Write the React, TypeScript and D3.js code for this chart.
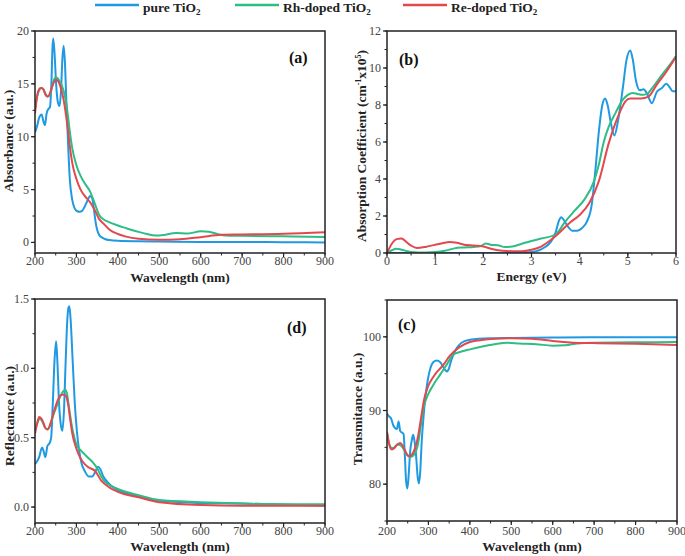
import React from "react";
import * as d3 from "d3";

const BLUE = "#1f9ae2";
const GREEN = "#2dbd85";
const RED = "#e2494e";

const seriesNames = ["pure TiO", "Rh-doped TiO", "Re-doped TiO"];

// Panel (a) Absorbance
const aPureX = [200,205,210,216,220,224,228,232,236,240,242,244,247,251,255,259,263,266,269,272,276,280,284,290,296,302,308,314,320,326,333,338,342,346,350,355,362,370,380,400,450,500,600,700,800,900];
const aPureY = [10.4,11.0,11.8,12.1,11.5,11.1,12.2,12.6,12.8,15.5,18.3,19.3,18.0,15.0,13.3,12.9,14.5,17.3,18.6,17.2,13.0,9.2,6.0,4.0,3.2,2.95,2.9,3.0,3.4,3.9,4.4,4.2,3.2,2.0,1.2,0.7,0.45,0.3,0.22,0.15,0.1,0.08,0.05,0.05,0.02,0.0];
const aRhX = [200,205,210,215,220,225,230,235,240,245,250,255,260,265,270,275,280,285,290,300,310,320,333,345,355,365,380,400,420,450,470,490,510,540,570,600,620,640,660,700,800,900];
const aRhY = [12.6,13.8,14.4,14.6,14.5,14.1,13.8,13.9,14.5,15.3,15.6,15.5,15.2,14.8,14.2,13.3,11.8,10.2,8.9,7.3,6.3,5.6,4.8,3.6,2.6,2.2,1.9,1.6,1.35,1.0,0.8,0.65,0.7,0.9,0.85,1.05,1.0,0.8,0.65,0.62,0.58,0.52];
const aReX = [200,205,210,215,220,225,230,235,240,245,250,255,260,265,270,275,280,285,290,300,310,320,333,345,355,365,380,400,420,450,500,550,600,650,700,800,900];
const aReY = [12.2,13.8,14.5,14.6,14.5,14.0,13.8,14.0,14.6,15.1,15.4,15.3,14.9,14.2,13.3,12.0,10.5,8.8,7.5,6.0,5.0,4.4,3.8,3.0,2.2,1.8,1.2,0.8,0.55,0.35,0.25,0.3,0.5,0.72,0.75,0.82,0.97];

// Panel (b) Absorption coefficient
const bPureX = [0,0.5,1,1.5,2,2.5,2.9,3.1,3.2,3.3,3.4,3.5,3.57,3.62,3.68,3.75,3.85,3.95,4.05,4.15,4.25,4.32,4.4,4.47,4.53,4.58,4.65,4.72,4.8,4.9,4.97,5.05,5.1,5.17,5.25,5.33,5.4,5.5,5.6,5.7,5.8,5.87,5.93,6.0];
const bPureY = [0,0,0,0,0,0,0.03,0.1,0.2,0.35,0.6,1.1,1.75,1.93,1.75,1.45,1.2,1.2,1.35,1.7,2.6,4.3,6.6,8.0,8.35,8.0,7.0,6.35,7.2,9.0,10.4,10.95,10.5,9.3,8.8,8.85,8.6,8.1,8.7,8.9,9.15,8.95,8.75,8.75];
const bRhX = [0,0.1,0.2,0.3,0.5,0.8,1.0,1.2,1.4,1.6,1.8,1.95,2.05,2.15,2.3,2.45,2.6,2.8,3.0,3.2,3.5,3.7,3.9,4.1,4.3,4.4,4.5,4.6,4.75,4.9,5.0,5.1,5.2,5.3,5.4,5.5,5.7,5.85,6.0];
const bRhY = [0,0.15,0.23,0.18,0.06,0.03,0.05,0.12,0.25,0.3,0.33,0.38,0.52,0.45,0.42,0.32,0.35,0.5,0.65,0.78,1.0,1.7,2.3,2.9,3.9,4.8,6.0,6.8,7.6,8.3,8.55,8.65,8.6,8.55,8.6,8.9,9.6,10.1,10.65];
const bReX = [0,0.1,0.2,0.3,0.4,0.5,0.62,0.8,1.0,1.15,1.3,1.45,1.6,1.8,2.0,2.2,2.4,2.6,2.8,3.0,3.2,3.4,3.6,3.8,4.0,4.2,4.4,4.6,4.8,4.95,5.05,5.2,5.35,5.45,5.6,5.8,6.0];
const bReY = [0,0.5,0.75,0.78,0.6,0.4,0.27,0.33,0.45,0.53,0.6,0.55,0.45,0.4,0.35,0.2,0.12,0.1,0.1,0.18,0.35,0.7,1.15,1.65,2.05,2.7,3.9,5.9,7.4,8.2,8.35,8.35,8.38,8.5,9.1,9.8,10.6];

// Panel (d) Reflectance
const dPureX = [200,205,210,217,221,225,230,235,239,243,247,251,254,258,262,266,270,274,278,281,283,286,291,296,301,306,312,320,330,338,345,352,358,365,375,400,450,500,600,700,800,900];
const dPureY = [0.31,0.33,0.36,0.43,0.40,0.36,0.44,0.46,0.50,0.75,1.05,1.195,1.05,0.75,0.60,0.55,0.70,1.05,1.35,1.44,1.447,1.35,1.05,0.75,0.55,0.42,0.32,0.26,0.22,0.22,0.25,0.29,0.27,0.22,0.18,0.12,0.08,0.045,0.03,0.025,0.018,0.01];
const dRhX = [200,205,210,215,220,225,230,235,240,245,250,255,260,265,270,273,277,282,288,295,300,310,320,330,340,350,360,370,385,400,450,500,600,700,800,900];
const dRhY = [0.55,0.6,0.635,0.63,0.6,0.57,0.56,0.58,0.62,0.67,0.71,0.75,0.79,0.82,0.84,0.846,0.82,0.72,0.6,0.5,0.45,0.41,0.38,0.35,0.32,0.28,0.22,0.18,0.15,0.13,0.085,0.05,0.035,0.025,0.02,0.02];
const dReX = [200,205,210,215,220,225,230,235,240,245,250,255,260,265,270,275,280,285,290,300,310,320,330,345,360,380,400,450,500,600,700,800,900];
const dReY = [0.53,0.6,0.65,0.64,0.61,0.57,0.56,0.58,0.63,0.68,0.73,0.77,0.8,0.81,0.81,0.8,0.74,0.63,0.53,0.42,0.35,0.31,0.285,0.26,0.19,0.14,0.11,0.07,0.035,0.015,0.01,0.01,0.01];

// Panel (c) Transmittance
const cPureX = [200,205,210,215,220,224,228,232,236,240,243,246,249,252,256,260,263,266,270,274,277,280,284,288,292,298,305,312,320,328,335,340,345,350,355,362,370,380,400,450,500,600,700,800,900];
const cPureY = [89.6,89.2,88.9,88.0,87.6,87.5,88.5,87.2,87.0,86.8,84,80.5,79.4,81,84.5,86,86.7,86,84,81,80.1,81.5,86,89,91.5,94,95.8,96.6,96.8,96.6,96.0,95.5,95.3,95.8,96.8,97.8,98.6,99.2,99.6,99.8,99.85,99.9,99.95,99.95,99.95];
const cRhX = [200,203,207,212,218,225,232,240,248,255,262,268,273,278,283,288,293,300,310,320,330,345,360,380,400,430,460,490,520,560,600,630,660,700,800,900];
const cRhY = [87.0,86.0,85.2,84.9,85.0,85.4,85.3,84.8,84.0,83.7,83.8,84.3,85.0,86.5,88.5,90.3,91.3,92.3,93.3,94.2,95.0,96.3,97.6,98.0,98.3,98.7,99.0,99.2,99.1,99.0,98.8,98.85,99.1,99.2,99.25,99.3];
const cReX = [200,204,208,212,218,225,232,238,244,250,255,260,265,270,275,280,285,290,300,310,320,330,340,350,360,375,400,425,450,500,550,600,650,700,800,900];
const cReY = [87.1,85.8,84.9,84.7,84.9,85.4,85.6,85.2,84.5,83.9,83.8,84.0,84.5,85.3,86.5,88.2,90.0,91.6,93.4,94.4,95.2,95.8,96.5,97.3,97.9,98.6,99.3,99.55,99.7,99.8,99.75,99.45,99.2,99.15,99.05,98.9];

const wlTicks = [200, 300, 400, 500, 600, 700, 800, 900];
const eTicks = [0, 1, 2, 3, 4, 5, 6];
const aYTicks = [0, 5, 10, 15, 20];
const bYTicks = [0, 2, 4, 6, 8, 10, 12];
const dYTicks = [0.0, 0.5, 1.0, 1.5];
const cYTicks = [80, 90, 100];

const FONT = "Liberation Serif, Times New Roman, Times, serif";

type Series = { xs: number[]; ys: number[]; color: string };

function Panel(props: {
  left: number; right: number; top: number; bottom: number;
  xDomain: [number, number]; yDomain: [number, number];
  xTicks: number[]; xMinorStep: number; yTicks: number[]; yMinorStep: number;
  xFmt: (v: number) => string; yFmt: (v: number) => string;
  series: Series[]; xTitle: string; yTitle: React.ReactNode; yTitleX: number; yTitleY: number;
  label: string; labelX: number; labelY: number;
  tickBase: number; xTitleBase: number;
}) {
  const p = props;
  const x = d3.scaleLinear().domain(p.xDomain).range([p.left, p.right]);
  const y = d3.scaleLinear().domain(p.yDomain).range([p.bottom, p.top]);
  const xMinor = d3.range(p.xDomain[0], p.xDomain[1] + 1e-9, p.xMinorStep);
  const yMinor = d3.range(Math.ceil(p.yDomain[0] / p.yMinorStep) * p.yMinorStep, p.yDomain[1] + 1e-9, p.yMinorStep);
  const clipId = "clip-" + p.label.replace(/[()]/g, "");
  return (
    <g>
      <defs>
        <clipPath id={clipId}>
          <rect x={p.left} y={p.top} width={p.right - p.left} height={p.bottom - p.top} />
        </clipPath>
      </defs>
      <g clipPath={`url(#${clipId})`}>
        {p.series.map((s, i) => {
          const pts: [number, number][] = s.xs.map((v, k) => [v, s.ys[k]]);
          const line = d3.line<[number, number]>().x((d) => x(d[0])).y((d) => y(d[1])).curve(d3.curveMonotoneX);
          return <path key={i} d={line(pts) || ""} fill="none" stroke={s.color} strokeWidth={2} />;
        })}
      </g>
      <rect x={p.left} y={p.top} width={p.right - p.left} height={p.bottom - p.top} fill="none" stroke="#222" strokeWidth={1.5} />
      {xMinor.map((v, i) => (
        <line key={"xm" + i} x1={x(v)} x2={x(v)} y1={p.bottom} y2={p.bottom + 2.5} stroke="#222" strokeWidth={1} />
      ))}
      {p.xTicks.map((v, i) => (
        <g key={"xt" + i}>
          <line x1={x(v)} x2={x(v)} y1={p.bottom} y2={p.bottom + 4} stroke="#222" strokeWidth={1.2} />
          <text x={x(v)} y={p.tickBase} textAnchor="middle" fontSize={12} fill="#444" fontFamily={FONT}>{p.xFmt(v)}</text>
        </g>
      ))}
      {yMinor.map((v, i) => (
        <line key={"ym" + i} x1={p.left - 2.5} x2={p.left} y1={y(v)} y2={y(v)} stroke="#222" strokeWidth={1} />
      ))}
      {p.yTicks.map((v, i) => (
        <g key={"yt" + i}>
          <line x1={p.left - 4} x2={p.left} y1={y(v)} y2={y(v)} stroke="#222" strokeWidth={1.2} />
          <text x={p.left - 6} y={y(v) + 4} textAnchor="end" fontSize={12} fill="#444" fontFamily={FONT}>{p.yFmt(v)}</text>
        </g>
      ))}
      <text x={(p.left + p.right) / 2} y={p.xTitleBase} textAnchor="middle" fontSize={13.5} fontWeight="bold" fill="#222" fontFamily={FONT}>{p.xTitle}</text>
      <text transform={`translate(${p.yTitleX},${p.yTitleY}) rotate(-90)`} textAnchor="middle" fontSize={13.5} fontWeight="bold" fill="#222" fontFamily={FONT}>{p.yTitle}</text>
      <text x={p.labelX} y={p.labelY} fontSize={16} fontWeight="bold" fill="#111" fontFamily={FONT}>{p.label}</text>
    </g>
  );
}

export default function App() {
  const colors = [BLUE, GREEN, RED];
  const legendX = [95, 235, 403];
  return (
    <svg width={685} height={556} style={{ position: "absolute", left: 0, top: 0, background: "#fff" }}>
      <rect width={685} height={556} fill="#fff" />
      {seriesNames.map((n, i) => (
        <g key={n}>
          <line x1={legendX[i]} x2={legendX[i] + 44} y1={5} y2={5} stroke={colors[i]} strokeWidth={2.5} />
          <text x={legendX[i] + 48} y={12} fontSize={13.5} fontWeight="bold" fill="#222" fontFamily={FONT}>
            {n}<tspan fontSize={9} dy={3}>2</tspan>
          </text>
        </g>
      ))}
      <Panel left={35} right={325} top={31} bottom={253} xDomain={[200, 900]} yDomain={[-1, 20]}
        xTicks={wlTicks} xMinorStep={50} yTicks={aYTicks} yMinorStep={2.5}
        xFmt={(v) => String(v)} yFmt={(v) => String(v)}
        series={[{ xs: aPureX, ys: aPureY, color: BLUE }, { xs: aRhX, ys: aRhY, color: GREEN }, { xs: aReX, ys: aReY, color: RED }]}
        xTitle="Wavelength (nm)" yTitle="Absorbance (a.u.)" yTitleX={13} yTitleY={141}
        label="(a)" labelX={289} labelY={63} tickBase={265} xTitleBase={282} />
      <Panel left={387} right={676} top={31} bottom={253} xDomain={[0, 6]} yDomain={[0, 12]}
        xTicks={eTicks} xMinorStep={0.5} yTicks={bYTicks} yMinorStep={1}
        xFmt={(v) => String(v)} yFmt={(v) => String(v)}
        series={[{ xs: bPureX, ys: bPureY, color: BLUE }, { xs: bRhX, ys: bRhY, color: GREEN }, { xs: bReX, ys: bReY, color: RED }]}
        xTitle="Energy (eV)"
        yTitle={<>Absorption Coefficient (cm<tspan fontSize={8} dy={-5}>-1</tspan><tspan dy={5}>x10</tspan><tspan fontSize={8} dy={-5}>5</tspan><tspan dy={5}>)</tspan></>}
        yTitleX={366} yTitleY={146}
        label="(b)" labelX={399} labelY={65} tickBase={265} xTitleBase={281} />
      <Panel left={35} right={325} top={299} bottom={523} xDomain={[200, 900]} yDomain={[-0.115, 1.5]}
        xTicks={wlTicks} xMinorStep={50} yTicks={dYTicks} yMinorStep={0.25}
        xFmt={(v) => String(v)} yFmt={(v) => v.toFixed(1)}
        series={[{ xs: dPureX, ys: dPureY, color: BLUE }, { xs: dRhX, ys: dRhY, color: GREEN }, { xs: dReX, ys: dReY, color: RED }]}
        xTitle="Wavelength (nm)" yTitle="Reflectance (a.u.)" yTitleX={14} yTitleY={416}
        label="(d)" labelX={287} labelY={333} tickBase={535} xTitleBase={551} />
      <Panel left={387} right={677} top={300} bottom={521} xDomain={[200, 900]} yDomain={[75, 105]}
        xTicks={wlTicks} xMinorStep={50} yTicks={cYTicks} yMinorStep={5}
        xFmt={(v) => String(v)} yFmt={(v) => String(v)}
        series={[{ xs: cPureX, ys: cPureY, color: BLUE }, { xs: cRhX, ys: cRhY, color: GREEN }, { xs: cReX, ys: cReY, color: RED }]}
        xTitle="Wavelength (nm)" yTitle="Transmitance (a.u.)" yTitleX={362} yTitleY={409}
        label="(c)" labelX={398} labelY={330} tickBase={535} xTitleBase={551} />
    </svg>
  );
}
